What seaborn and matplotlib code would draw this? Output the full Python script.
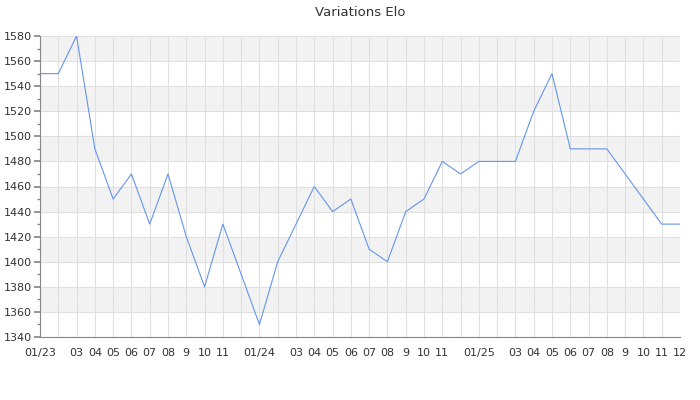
import pandas as pd
import seaborn as sns
import matplotlib.pyplot as plt
from matplotlib.ticker import MultipleLocator

sns.set_theme(style='white')
plt.rcParams['font.family'] = ['DejaVu Sans']

# Données : Elo mensuel de janvier 2023 à décembre 2025
elo = [1550, 1550, 1580, 1490, 1450, 1470, 1430, 1470, 1420, 1380, 1430, 1390,
       1350, 1400, 1430, 1460, 1440, 1450, 1410, 1400, 1440, 1450, 1480, 1470,
       1480, 1480, 1480, 1520, 1550, 1490, 1490, 1490, 1470, 1450, 1430, 1430]
tick_labels = ['01/23', '', '03', '04', '05', '06', '07', '08', '9', '10', '11', '',
               '01/24', '', '03', '04', '05', '06', '07', '08', '9', '10', '11', '',
               '01/25', '', '03', '04', '05', '06', '07', '08', '9', '10', '11', '12']

df = pd.DataFrame({'mois': range(len(elo)), 'elo': elo})

fig = plt.figure(figsize=(7, 4), dpi=100)
ax = fig.add_axes([40 / 700, 63 / 400, 640 / 700, 301 / 400])

# bandes alternées
for y0 in range(1340, 1580, 20):
    if ((y0 - 1340) // 20) % 2 == 1:
        ax.axhspan(y0, y0 + 20, color='#f2f2f2', zorder=0, lw=0)

sns.lineplot(data=df, x='mois', y='elo', ax=ax, color='#6495ed', linewidth=0.8, zorder=3)

ax.set_xlim(0, len(elo) - 1)
ax.set_ylim(1340, 1580)
ax.set_xticks(range(len(elo)))
ax.set_xticklabels(tick_labels)
ax.yaxis.set_major_locator(MultipleLocator(20))
ax.yaxis.set_minor_locator(MultipleLocator(10))
ax.grid(True, which='major', color='#e0e0e0', linewidth=0.8, zorder=1)
ax.set_axisbelow(True)

ax.set_xlabel('')
ax.set_ylabel('')
ax.set_title('Variations Elo', fontsize=9.5, color='#333333', pad=14.5)

for side in ['top', 'right']:
    ax.spines[side].set_visible(False)
for side in ['left', 'bottom']:
    ax.spines[side].set_color('#888888')
    ax.spines[side].set_linewidth(0.8)

ax.tick_params(axis='x', length=0, labelsize=8, labelcolor='#333333', pad=8)
ax.tick_params(axis='y', which='major', length=4, color='#888888', labelsize=8,
               labelcolor='#333333', left=True, pad=2)
ax.tick_params(axis='y', which='minor', length=2, color='#888888', left=True)

fig.savefig('out.png', dpi=100)
